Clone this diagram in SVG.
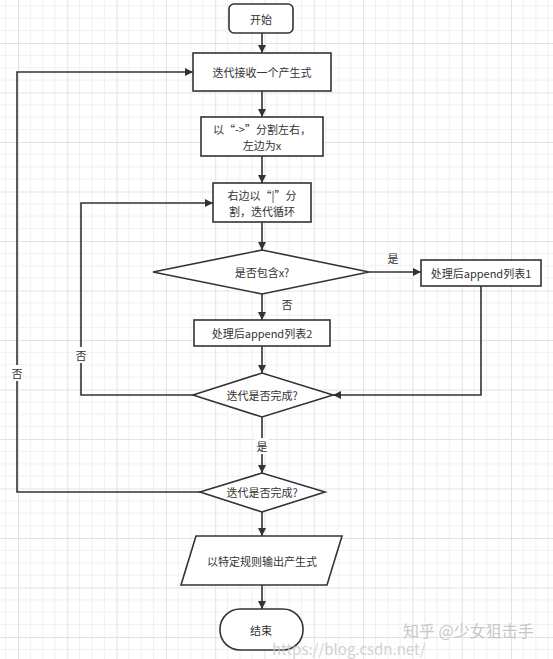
<svg xmlns="http://www.w3.org/2000/svg" width="553" height="659" viewBox="0 0 553 659">
<style>
.n{fill:#fff;stroke:#333;stroke-width:1.6}
.t{font-family:"Noto Sans CJK SC","Noto Sans",sans-serif;font-size:11px;fill:#333;text-anchor:middle;dominant-baseline:central}
.c{fill:none;stroke:#333;stroke-width:1.6}
.lb{fill:#fff}
.wm{font-family:"Noto Sans CJK SC","Noto Sans",sans-serif;fill:#c8c8c8}
</style>
<defs>
<marker id="a" viewBox="0 0 10 10" refX="10" refY="5" markerWidth="9" markerHeight="8" markerUnits="userSpaceOnUse" orient="auto">
<path d="M0,0 L10,5 L0,10 Z" fill="#333"/>
</marker>
<pattern id="g" x="18" y="-6.5" width="49.3" height="49.5" patternUnits="userSpaceOnUse">
<path d="M12.3,0V49.5M24.65,0V49.5M37,0V49.5M0,12.4H49.3M0,24.75H49.3M0,37.1H49.3" stroke="#f0f0f0" stroke-width="1"/>
<path d="M0.5,0V49.5M0,0.5H49.3" stroke="#e2e2e2" stroke-width="1"/>
</pattern>
</defs>
<rect width="553" height="659" fill="#fff"/>
<rect width="553" height="659" fill="url(#g)"/>

<g id="connectors">
<line class="c" x1="262" y1="33" x2="262" y2="53" marker-end="url(#a)"/>
<line class="c" x1="262" y1="91" x2="262" y2="117" marker-end="url(#a)"/>
<line class="c" x1="262" y1="156" x2="262" y2="183" marker-end="url(#a)"/>
<line class="c" x1="262" y1="222" x2="262" y2="250" marker-end="url(#a)"/>
<line class="c" x1="262" y1="294" x2="262" y2="320" marker-end="url(#a)"/>
<line class="c" x1="369" y1="272" x2="421" y2="272" marker-end="url(#a)"/>
<line class="c" x1="262" y1="346" x2="262" y2="373" marker-end="url(#a)"/>
<polyline class="c" points="481,286 481,395 333,395" marker-end="url(#a)"/>
<polyline class="c" points="193,395 81,395 81,203 213,203" marker-end="url(#a)"/>
<line class="c" x1="262" y1="417" x2="262" y2="473" marker-end="url(#a)"/>
<polyline class="c" points="200,492 17,492 17,72 193,72" marker-end="url(#a)"/>
<line class="c" x1="262" y1="512" x2="262" y2="536" marker-end="url(#a)"/>
<line class="c" x1="262" y1="585" x2="262" y2="609" marker-end="url(#a)"/>
<text class="t" x="393" y="258">是</text>
<text class="t" x="287" y="304">否</text>
<rect class="lb" x="74" y="347" width="14" height="16"/>
<text class="t" x="81" y="355">否</text>
<rect class="lb" x="10" y="365" width="14" height="16"/>
<text class="t" x="17" y="373">否</text>
<rect class="lb" x="255" y="438" width="14" height="16"/>
<text class="t" x="262" y="446">是</text>
</g>

<g id="start">
<rect class="n" x="229" y="4" width="64" height="29" rx="5"/>
<text class="t" x="261" y="18.5">开始</text>
</g>
<g id="recv">
<rect class="n" x="193" y="53" width="138" height="38"/>
<text class="t" x="262" y="72">迭代接收一个产生式</text>
</g>
<g id="split">
<rect class="n" x="201" y="117" width="122" height="39"/>
<text class="t" x="262" y="129">以“-&gt;”分割左右，</text>
<text class="t" x="262" y="145">左边为x</text>
</g>
<g id="loop">
<rect class="n" x="213" y="183" width="98" height="39"/>
<text class="t" x="262" y="195">右边以“|”分</text>
<text class="t" x="262" y="211">割，迭代循环</text>
</g>
<g id="contains">
<polygon class="n" points="153,272 262,250 369,272 262,294"/>
<text class="t" x="262" y="272">是否包含x?</text>
</g>
<g id="list1">
<rect class="n" x="421" y="260" width="120" height="26"/>
<text class="t" x="481" y="273">处理后append列表1</text>
</g>
<g id="list2">
<rect class="n" x="194" y="320" width="136" height="26"/>
<text class="t" x="262" y="333">处理后append列表2</text>
</g>
<g id="done1">
<polygon class="n" points="193,395 262,373 333,395 262,417"/>
<text class="t" x="262" y="395">迭代是否完成?</text>
</g>
<g id="done2">
<polygon class="n" points="200,492 262,473 325,492 262,512"/>
<text class="t" x="262" y="492">迭代是否完成?</text>
</g>
<g id="output">
<polygon class="n" points="196,536 342,536 327,585 181,585"/>
<text class="t" x="262" y="561">以特定规则输出产生式</text>
</g>
<g id="end">
<rect class="n" x="220" y="609" width="83" height="41" rx="20"/>
<text class="t" x="261" y="630">结束</text>
</g>

<text class="wm" x="403" y="637" font-size="16">知乎 @少女狙击手</text>
<text class="wm" x="272" y="655" font-size="15" opacity="0.8">https://blog.csdn.net/</text>
</svg>
